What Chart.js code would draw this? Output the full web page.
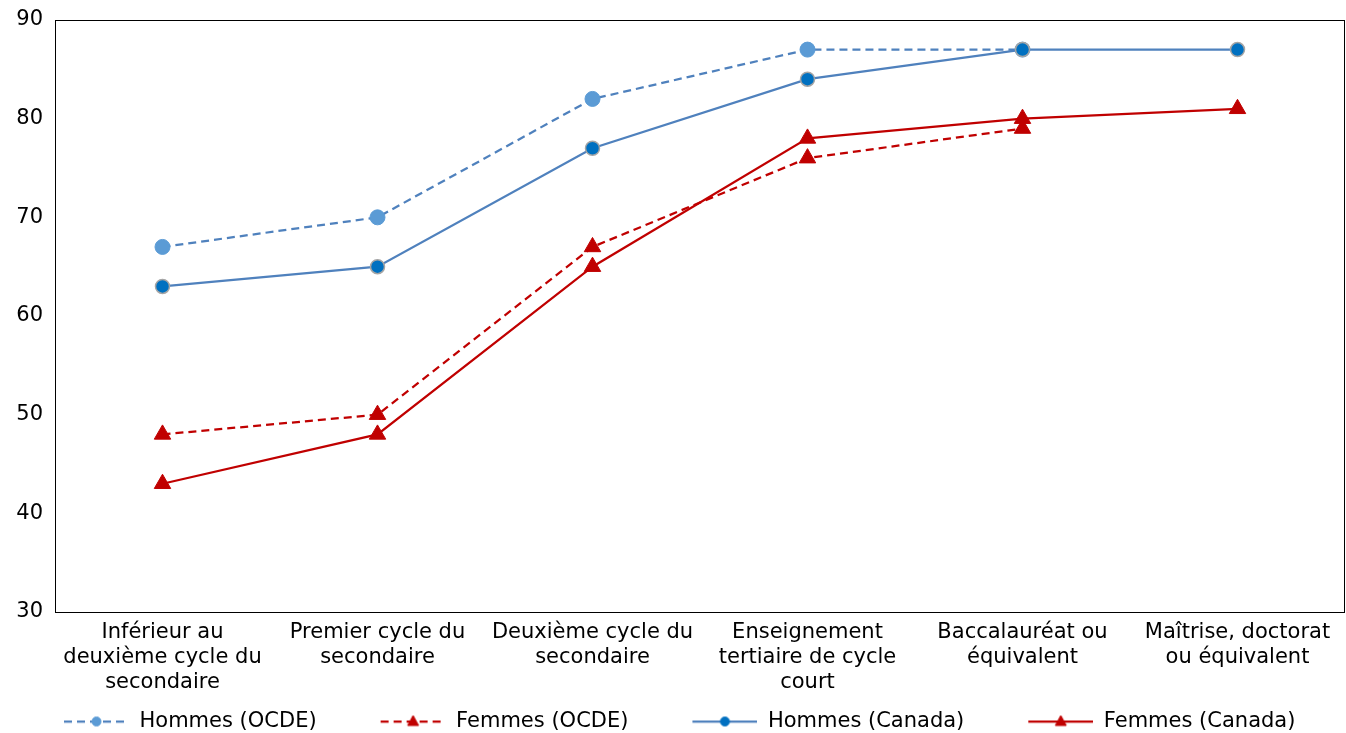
<!DOCTYPE html>
<html>
<head>
<meta charset="utf-8">
<script src="https://cdn.jsdelivr.net/npm/chart.js@4"></script>
<style>
  html, body { margin: 0; padding: 0; background: #fff; }
  #wrap { width: 1346px; height: 733px; }
</style>
</head>
<body>
<div id="wrap"><canvas id="c" width="1346" height="733"></canvas></div>
<script>
const categories = [
  ["Inférieur au", "deuxième cycle du", "secondaire"],
  ["Premier cycle du", "secondaire"],
  ["Deuxième cycle du", "secondaire"],
  ["Enseignement", "tertiaire de cycle", "court"],
  ["Baccalauréat ou", "équivalent"],
  ["Maîtrise, doctorat", "ou équivalent"]
];
const seriesNames = ["Hommes (OCDE)", "Femmes (OCDE)", "Hommes (Canada)", "Femmes (Canada)"];
const hommesOCDE = [67, 70, 82, 87, 87, null];
const femmesOCDE = [48, 50, 67, 76, 79, null];
const hommesCanada = [63, 65, 77, 84, 87, 87];
const femmesCanada = [43, 48, 65, 78, 80, 81];
const yMin = 30, yMax = 90, yStep = 10;

const FONT = "'DejaVu Sans', Verdana, sans-serif";
const BLUE_LINE = '#4F81BD';
const BLUE_LIGHT = '#5B9BD5';
const BLUE_DARK = '#0070C0';
const RED = '#C00000';
const LEG_PAD = 7;
const LEG_GAP = 57;
const LEG_W = LEG_GAP + 65;

function legendImg(color, dashed, shape, fill, stroke) {
  const c = document.createElement('canvas');
  c.width = LEG_W; c.height = 20;
  const g = c.getContext('2d');
  g.strokeStyle = color; g.lineWidth = 2.25;
  if (dashed) g.setLineDash([8, 5]);
  g.beginPath(); g.moveTo(LEG_GAP, 10); g.lineTo(LEG_W, 10); g.stroke();
  g.setLineDash([]);
  const cx = LEG_GAP + 32.5, cy = 10;
  g.fillStyle = fill; g.strokeStyle = stroke; g.lineWidth = 1;
  g.beginPath();
  if (shape === 'circle') {
    g.arc(cx, cy, 4.5, 0, Math.PI * 2);
  } else {
    g.moveTo(cx, cy - 6); g.lineTo(cx + 5.5, cy + 4); g.lineTo(cx - 5.5, cy + 4); g.closePath();
  }
  g.fill(); g.stroke();
  return c;
}

const legendImages = [
  legendImg(BLUE_LINE, true, 'circle', BLUE_LIGHT, BLUE_LIGHT),
  legendImg(RED, true, 'triangle', RED, RED),
  legendImg(BLUE_LINE, false, 'circle', BLUE_DARK, BLUE_DARK),
  legendImg(RED, false, 'triangle', RED, RED)
];

const boxPlugin = {
  id: 'boxPlugin',
  beforeLayout(chart) {
    const lg = chart.legend;
    if (lg && !lg.__patched) {
      const orig = lg.fit;
      lg.fit = function () { orig.call(this); this.height = 29; };
      lg.__patched = true;
    }
  },
  beforeDatasetsDraw(chart) {
    const a = chart.chartArea, ctx = chart.ctx;
    ctx.save();
    ctx.strokeStyle = '#000';
    ctx.lineWidth = 1;
    ctx.strokeRect(Math.round(a.left) + 0.5, Math.round(a.top) + 0.5,
                   Math.round(a.right - a.left) - 1, Math.round(a.bottom - a.top));
    ctx.restore();
  }
};

function zeroPad(s) { s.paddingLeft = 0; s.paddingRight = 0; s.paddingTop = 0; s.paddingBottom = 0; }

const chart = new Chart(document.getElementById('c'), {
  type: 'line',
  data: {
    labels: categories,
    datasets: [
      {
        label: seriesNames[0], data: hommesOCDE, order: 2,
        borderColor: BLUE_LINE, borderWidth: 2.25, borderDash: [8, 5],
        pointStyle: 'circle', pointRadius: 7.5, pointHoverRadius: 7.5,
        pointBackgroundColor: BLUE_LIGHT, pointBorderColor: BLUE_LIGHT, pointBorderWidth: 1,
        tension: 0, fill: false, clip: false
      },
      {
        label: seriesNames[1], data: femmesOCDE, order: 2,
        borderColor: RED, borderWidth: 2.25, borderDash: [8, 5],
        pointStyle: 'triangle', pointRadius: 9.5, pointHoverRadius: 9.5,
        pointBackgroundColor: RED, pointBorderColor: RED, pointBorderWidth: 1,
        tension: 0, fill: false, clip: false
      },
      {
        label: seriesNames[2], data: hommesCanada, order: 1,
        borderColor: BLUE_LINE, borderWidth: 2.25,
        pointStyle: 'circle', pointRadius: 7, pointHoverRadius: 7,
        pointBackgroundColor: BLUE_DARK, pointBorderColor: '#A5A5A5', pointBorderWidth: 1.5,
        tension: 0, fill: false, clip: false
      },
      {
        label: seriesNames[3], data: femmesCanada, order: 1,
        borderColor: RED, borderWidth: 2.25,
        pointStyle: 'triangle', pointRadius: 9.5, pointHoverRadius: 9.5,
        pointBackgroundColor: RED, pointBorderColor: RED, pointBorderWidth: 1,
        tension: 0, fill: false, clip: false
      }
    ]
  },
  options: {
    responsive: false,
    animation: false,
    devicePixelRatio: 1,
    layout: { autoPadding: false, padding: { top: 20, right: 1, left: 0, bottom: 0 } },
    plugins: {
      tooltip: { enabled: false },
      legend: {
        position: 'bottom',
        align: 'start',
        labels: {
          usePointStyle: true,
          pointStyleWidth: LEG_W,
          boxHeight: 21,
          padding: LEG_PAD,
          color: '#000',
          font: { family: FONT, size: 21, lineHeight: 1 },
          sort: (a, b) => a.datasetIndex - b.datasetIndex,
          generateLabels: (chart) => chart.data.datasets.map((ds, i) => ({
            text: ds.label,
            datasetIndex: i,
            pointStyle: legendImages[i],
            fillStyle: 'rgba(0,0,0,0)',
            strokeStyle: 'rgba(0,0,0,0)',
            lineWidth: 0,
            hidden: false,
            fontColor: '#000'
          }))
        }
      }
    },
    scales: {
      x: {
        offset: true,
        grid: { display: false, drawTicks: false },
        border: { display: false },
        ticks: {
          color: '#000', padding: 8, maxRotation: 0, autoSkip: false,
          font: { family: FONT, size: 21, lineHeight: 1.2 }
        },
        afterFit: (s) => { s.height = 92; zeroPad(s); }
      },
      y: {
        min: yMin, max: yMax,
        grid: { display: false, drawTicks: false },
        border: { display: false },
        ticks: {
          stepSize: yStep, color: '#000', padding: 12,
          font: { family: FONT, size: 21 }
        },
        afterFit: (s) => { s.width = 55; zeroPad(s); }
      }
    }
  },
  plugins: [boxPlugin]
});
</script>
</body>
</html>
